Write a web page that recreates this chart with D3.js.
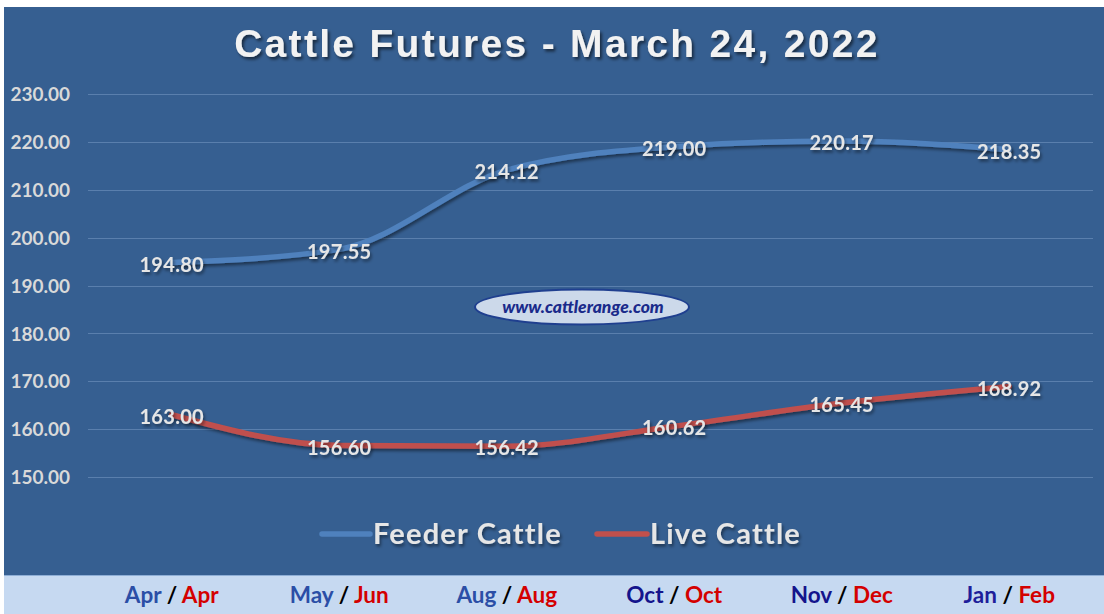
<!DOCTYPE html>
<html><head><meta charset="utf-8">
<script src="https://cdn.jsdelivr.net/npm/d3@7"></script>
<style>
html,body{margin:0;padding:0;background:#fff;}
svg{display:block;}
</style></head>
<body>
<script>
const feederMonths = ["Apr","May","Aug","Oct","Nov","Jan"];
const liveMonths = ["Apr","Jun","Aug","Oct","Dec","Feb"];
const feederValues = [194.80,197.55,214.12,219.00,220.17,218.35];
const liveValues = [163.00,156.60,156.42,160.62,165.45,168.92];
const yTicks = [150,160,170,180,190,200,210,220,230];
const seriesNames = ["Feeder Cattle","Live Cattle"];
const titleText = "Cattle Futures - March 24, 2022";
const watermark = "www.cattlerange.com";

const W=1104,H=614;
const svg=d3.select("body").append("svg").attr("width",W).attr("height",H);
const defs=svg.append("defs");
const f1=defs.append("filter").attr("id","sh").attr("x","-20%").attr("y","-50%").attr("width","140%").attr("height","200%");
f1.append("feDropShadow").attr("dx",1.5).attr("dy",2.5).attr("stdDeviation",1.5).attr("flood-color","#000").attr("flood-opacity",0.45);
const f2=defs.append("filter").attr("id","tsh").attr("x","-10%").attr("y","-30%").attr("width","120%").attr("height","160%");
f2.append("feDropShadow").attr("dx",2).attr("dy",2.5).attr("stdDeviation",1.8).attr("flood-color","#000").attr("flood-opacity",0.55);

// backgrounds
svg.append("rect").attr("x",4).attr("y",7).attr("width",W-4).attr("height",568).attr("fill","#365f91");
svg.append("rect").attr("x",4).attr("y",575).attr("width",W-4).attr("height",H-575).attr("fill","#c6d9f1");
svg.append("line").attr("x1",4).attr("x2",W).attr("y1",575.5).attr("y2",575.5).attr("stroke","#8eaed6").attr("stroke-width",1);

const cats=d3.range(feederValues.length);
const x=d3.scalePoint().domain(cats).range([88,1093]).padding(0.5);
const y=d3.scaleLinear().domain([150,230]).range([477,94]);

// gridlines
svg.append("g").selectAll("line").data(yTicks).join("line")
 .attr("x1",88).attr("x2",1093).attr("y1",d=>Math.round(y(d))+0.5).attr("y2",d=>Math.round(y(d))+0.5)
 .attr("stroke","#5a7fad").attr("stroke-width",1);

// y axis labels
const yAxis=d3.axisLeft(y).tickValues(yTicks).tickFormat(d3.format(".2f")).tickSize(0).tickPadding(0);
const ga=svg.append("g").attr("transform","translate(70,0)").call(yAxis);
ga.select(".domain").remove();
ga.selectAll("text").attr("fill","#d9d9d9").attr("font-family","Lato, 'Open Sans', sans-serif").attr("font-weight","bold").attr("font-size",19).attr("dy","0.35em");

// title
svg.append("text").attr("x",557).attr("y",57).attr("text-anchor","middle")
 .attr("font-family","'Liberation Sans', Arial, sans-serif").attr("font-weight","bold").attr("font-size",39)
 .attr("letter-spacing",2.3).attr("fill","#f2f2f2").attr("filter","url(#tsh)").text(titleText);

// watermark
svg.append("ellipse").attr("cx",582).attr("cy",307).attr("rx",107).attr("ry",17.5).attr("fill","#ccd9ea").attr("stroke","#1f3f8f").attr("stroke-width",2);
svg.append("text").attr("x",583).attr("y",313).attr("text-anchor","middle").attr("font-family","Lato, sans-serif")
 .attr("font-style","italic").attr("font-weight","900").attr("font-size",17.5).attr("fill","#1a2a8a").text(watermark);

// lines
const line=d3.line().x((d,i)=>x(i)).y(d=>y(d)).curve(d3.curveMonotoneX);
const series=[{v:feederValues,c:"#4f81bd"},{v:liveValues,c:"#c0504d"}];
svg.append("g").selectAll("path").data(series).join("path")
 .attr("d",d=>line(d.v)).attr("fill","none").attr("stroke",d=>d.c).attr("stroke-width",5.5).attr("stroke-linecap","round").attr("filter","url(#sh)");

// data labels
series.forEach(s=>{
 svg.append("g").selectAll("text").data(s.v).join("text")
  .attr("x",(d,i)=>x(i)).attr("y",d=>y(d)+2).attr("dy","0.36em").attr("text-anchor","middle")
  .attr("font-family","Lato, 'Open Sans', sans-serif").attr("font-weight","bold").attr("font-size",20)
  .attr("letter-spacing",0.3)
  .attr("fill","#e6e6e6").attr("filter","url(#sh)").text(d=>d3.format(".2f")(d));
});

// legend
const lg=[{n:seriesNames[0],c:"#4f81bd",x1:322,x2:370,tx:373},{n:seriesNames[1],c:"#c0504d",x1:597,x2:647,tx:650}];
lg.forEach(l=>{
 svg.append("line").attr("x1",l.x1).attr("x2",l.x2).attr("y1",534).attr("y2",534).attr("stroke",l.c).attr("stroke-width",5.5).attr("stroke-linecap","round");
 svg.append("text").attr("x",l.tx).attr("y",534).attr("dy","0.36em").attr("font-family","Lato, 'Open Sans', sans-serif")
  .attr("font-weight","bold").attr("font-size",29).attr("letter-spacing",1.2).attr("fill","#e6e6e6").attr("filter","url(#sh)").text(l.n);
});

// bottom category labels
const blueCols=["#2b4ea6","#2b4ea6","#2b4ea6","#14148c","#14148c","#1e1e9a"];
const bl=svg.append("g");
cats.forEach(i=>{
 const t=bl.append("text").attr("x",x(i)).attr("y",603).attr("text-anchor","middle")
  .attr("font-family","Lato, sans-serif").attr("font-weight","bold").attr("font-size",22.5);
 t.append("tspan").attr("fill",blueCols[i]).text(feederMonths[i]);
 t.append("tspan").attr("fill","#000").text(" / ");
 t.append("tspan").attr("fill","#d40000").text(liveMonths[i]);
});
</script>
</body></html>
